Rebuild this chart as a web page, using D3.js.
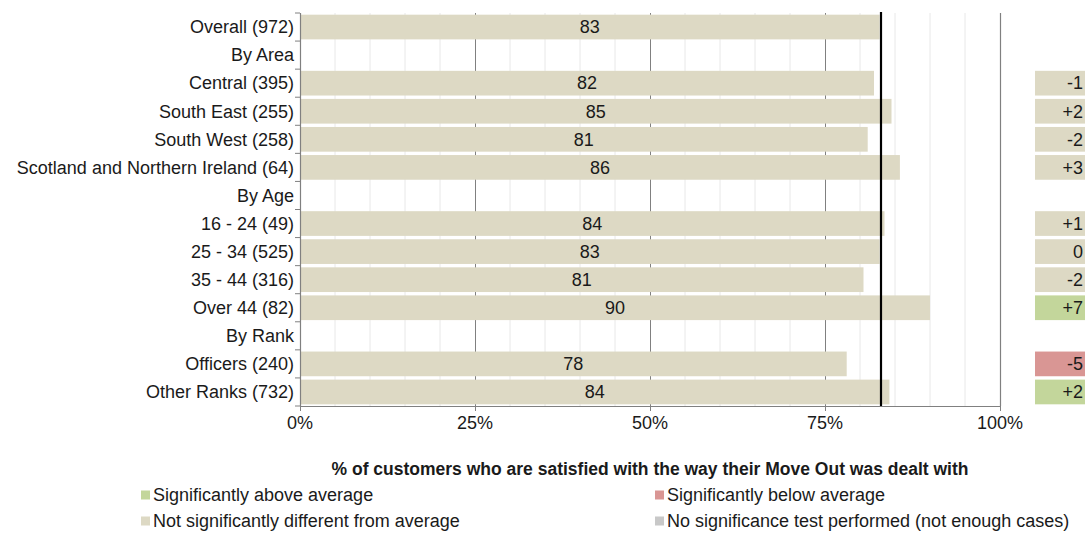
<!DOCTYPE html>
<html>
<head>
<meta charset="utf-8">
<script src="https://cdn.jsdelivr.net/npm/d3@7"></script>
<style>
  html, body { margin: 0; padding: 0; background: #fff; }
  svg { display: block; }
  text { font-family: "Liberation Sans", "DejaVu Sans", sans-serif; fill: #1a1a1a; }
</style>
</head>
<body>
<svg id="chart" width="1085" height="543"></svg>
<script>
// ---- data ----
const categories = ["Overall (972)", "By Area", "Central (395)", "South East (255)", "South West (258)",
  "Scotland and Northern Ireland (64)", "By Age", "16 - 24 (49)", "25 - 34 (525)", "35 - 44 (316)",
  "Over 44 (82)", "By Rank", "Officers (240)", "Other Ranks (732)"];
// bar lengths (percent), null for header rows
const values = [82.8, null, 82.0, 84.5, 81.1, 85.7, null, 83.5, 82.8, 80.5, 90.0, null, 78.1, 84.2];
// labels shown on bars
const valueLabels = ["83", null, "82", "85", "81", "86", null, "84", "83", "81", "90", null, "78", "84"];
// difference from average
const diffs = [null, null, "-1", "+2", "-2", "+3", null, "+1", "0", "-2", "+7", null, "-5", "+2"];
// significance: "above", "below", "none" (not significant)
const significance = [null, null, "none", "none", "none", "none", null, "none", "none", "none", "above", null, "below", "above"];
const average = 83;
const xTicks = [0, 25, 50, 75, 100];
const xTickLabels = ["0%", "25%", "50%", "75%", "100%"];
const title = "% of customers who are satisfied with the way their Move Out was dealt with";
const legendItems = [
  { label: "Significantly above average", key: "above" },
  { label: "Significantly below average", key: "below" },
  { label: "Not significantly different from average", key: "none" },
  { label: "No significance test performed (not enough cases)", key: "notest" }
];

// ---- styles ----
const colors = { bar: "#DDD9C4", above: "#C3D69B", below: "#D99694", none: "#DDD9C4", notest: "#C8C8C8" };
const FS = "18px";

const svg = d3.select("#chart");
const x = d3.scaleLinear().domain([0, 100]).range([300, 1000]);
const y = d3.scaleBand().domain(categories).range([13, 406]).paddingInner(0.12).paddingOuter(0.06);
const step = y.step();

// gridlines (minor every 5%)
const minor = d3.range(5, 100, 5).filter(v => v % 25 !== 0);
svg.append("g").selectAll("line").data(minor).join("line")
  .attr("x1", d => x(d)).attr("x2", d => x(d))
  .attr("y1", 13).attr("y2", 406)
  .attr("stroke", "#E8E8E8").attr("stroke-width", 1);
svg.append("g").selectAll("line").data([25, 50, 75]).join("line")
  .attr("x1", d => x(d) + 0.5).attr("x2", d => x(d) + 0.5)
  .attr("y1", 13).attr("y2", 406)
  .attr("stroke", "#808080").attr("stroke-width", 1);
// right border (100%)
svg.append("line")
  .attr("x1", x(100) + 0.5).attr("x2", x(100) + 0.5).attr("y1", 13).attr("y2", 406)
  .attr("stroke", "#808080").attr("stroke-width", 1.2);

// bars
const rows = categories.map((c, i) => ({ c, v: values[i], lab: valueLabels[i], diff: diffs[i], sig: significance[i] }));
svg.append("g").selectAll("rect").data(rows.filter(d => d.v != null)).join("rect")
  .attr("x", x(0)).attr("y", d => y(d.c))
  .attr("width", d => x(d.v) - x(0)).attr("height", y.bandwidth())
  .attr("fill", colors.bar);

svg.append("g").selectAll("text").data(rows.filter(d => d.v != null)).join("text")
  .attr("x", d => (x(0) + x(d.v)) / 2).attr("y", d => y(d.c) + y.bandwidth() / 2)
  .attr("dy", "0.35em").attr("text-anchor", "middle")
  .style("font-size", FS).text(d => d.lab);

// average line
svg.append("line")
  .attr("x1", x(average)).attr("x2", x(average)).attr("y1", 12).attr("y2", 406)
  .attr("stroke", "#000").attr("stroke-width", 2.2);

// diff boxes
const dg = svg.append("g").selectAll("g").data(rows.filter(d => d.diff != null)).join("g");
dg.append("rect")
  .attr("x", 1035).attr("y", d => y(d.c)).attr("width", 60).attr("height", y.bandwidth())
  .attr("fill", d => colors[d.sig]);
dg.append("text")
  .attr("x", 1083).attr("y", d => y(d.c) + y.bandwidth() / 2).attr("dy", "0.35em")
  .attr("text-anchor", "end").style("font-size", FS).text(d => d.diff);

// y axis
const yAxis = svg.append("g");
yAxis.append("line").attr("x1", 300.5).attr("x2", 300.5).attr("y1", 13).attr("y2", 406)
  .attr("stroke", "#808080").attr("stroke-width", 1.2);
const bounds = d3.range(categories.length + 1).map(i => 13 + i * step);
yAxis.selectAll("line.tk").data(bounds).join("line").attr("class", "tk")
  .attr("x1", 295).attr("x2", 300).attr("y1", d => d).attr("y2", d => d)
  .attr("stroke", "#808080");
yAxis.selectAll("text").data(categories).join("text")
  .attr("x", 294).attr("y", d => y(d) + y.bandwidth() / 2).attr("dy", "0.35em")
  .attr("text-anchor", "end").style("font-size", FS).text(d => d);

// x axis
const xAxis = svg.append("g");
xAxis.append("line").attr("x1", 300).attr("x2", 1001).attr("y1", 406.5).attr("y2", 406.5)
  .attr("stroke", "#808080").attr("stroke-width", 1.2);
xAxis.selectAll("line.tk").data(xTicks).join("line").attr("class", "tk")
  .attr("x1", d => x(d) + 0.5).attr("x2", d => x(d) + 0.5).attr("y1", 406).attr("y2", 411)
  .attr("stroke", "#808080");
xAxis.selectAll("text").data(xTicks).join("text")
  .attr("x", d => x(d)).attr("y", 423).attr("dy", "0.35em").attr("text-anchor", "middle")
  .style("font-size", FS).text((d, i) => xTickLabels[i]);

// title
svg.append("text").attr("x", 650).attr("y", 469).attr("dy", "0.35em")
  .attr("text-anchor", "middle").style("font-size", "17.5px").style("font-weight", "bold")
  .text(title);

// legend
const legendPos = [[141, 495], [655, 495], [141, 521], [655, 521]];
const lg = svg.append("g").selectAll("g").data(legendItems).join("g")
  .attr("transform", (d, i) => `translate(${legendPos[i][0]},${legendPos[i][1]})`);
lg.append("rect").attr("x", 0).attr("y", -4.5).attr("width", 9).attr("height", 9)
  .attr("fill", d => colors[d.key]);
lg.append("text").attr("x", 12).attr("y", 0).attr("dy", "0.35em")
  .style("font-size", FS).text(d => d.label);
</script>
</body>
</html>
